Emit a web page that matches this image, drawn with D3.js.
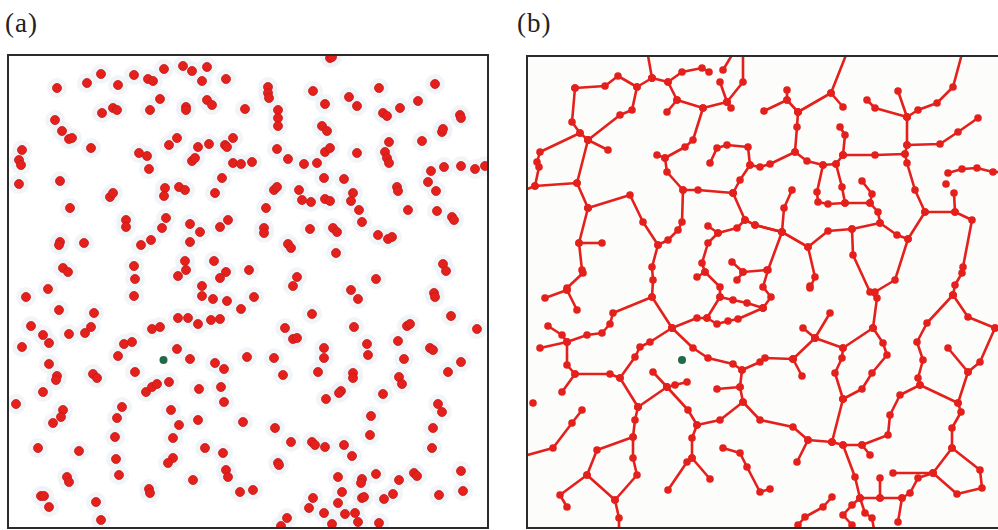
<!DOCTYPE html>
<html>
<head>
<meta charset="utf-8">
<script src="https://cdn.jsdelivr.net/npm/d3@7"></script>
<style>
  body { margin: 0; background: #fff; }
</style>
</head>
<body>
<svg id="chart" width="998" height="530"></svg>
<script>
// panel labels
const panelLabels = ["(a)", "(b)"];

// seed (green) point, one per panel, in figure pixel units
const seedA = [163.5, 360];
const seedB = [682, 360];

// panel (a): scattered particles
const scatterPoints = [
  [57,88],[87,83],[101,74],[118,85],[134,75],[148,79],[153,81],[164,69],[183,66],[192,71],[207,67],[202,81],[226,79],[160,99],
  [102,113],[113,108],[117,110],[150,110],[186,107],[186,110],[207,100],[212,105],[245,109],[55,120],[62,131],[69,139],[72,138],
  [91,148],[22,150],[19,160],[21,165],[19,184],[60,181],[139,153],[147,156],[149,169],[169,145],[177,138],[198,147],[209,144],
  [225,145],[227,147],[233,138],[192,161],[195,158],[233,163],[241,164],[222,178],[215,193],[165,188],[164,196],[179,187],[185,190],
  [110,197],[113,193],[70,208],[126,220],[126,227],[166,218],[162,228],[190,224],[200,232],[220,227],[228,220],[60,242],[59,245],
  [84,243],[141,245],[151,240],[190,242],[63,268],[68,272],[134,266],[135,279],[185,261],[186,270],[178,276],[214,261],[226,272],
  [220,278],[249,270],[202,286],[48,289],
  [330,58],[332,57],[268,87],[268,93],[269,98],[313,91],[379,88],[435,84],[325,104],[349,97],[357,106],[383,113],[387,116],
  [400,108],[418,101],[460,115],[461,118],[278,110],[278,118],[278,126],[322,126],[327,131],[442,132],[443,129],[389,142],[422,141],
  [277,149],[288,159],[252,162],[304,164],[317,163],[325,152],[330,148],[357,153],[385,152],[387,158],[389,163],[431,171],[444,167],
  [461,166],[475,169],[485,166],[324,178],[344,179],[274,190],[277,187],[299,190],[302,200],[311,202],[325,199],[330,201],[353,193],
  [351,201],[397,187],[398,191],[428,182],[436,191],[266,208],[359,210],[408,210],[437,211],[452,217],[454,220],[264,228],[264,233],
  [310,229],[333,228],[337,232],[362,222],[378,235],[388,239],[392,237],[288,244],[291,248],[336,253],[297,277],[293,286],[376,279],
  [443,264],[446,271],
  [26,297],[59,310],[94,313],[134,296],[202,296],[213,299],[227,301],[241,309],[31,326],[43,335],[49,343],[69,334],[85,333],[91,327],
  [152,329],[160,327],[178,318],[188,318],[198,324],[211,320],[220,319],[22,347],[124,344],[132,342],[118,356],[177,349],[190,359],
  [247,357],[49,364],[57,376],[56,380],[93,374],[97,378],[135,372],[215,363],[224,369],[43,392],[146,392],[152,387],[157,384],
  [169,382],[199,389],[221,387],[224,402],[16,404],[122,407],[117,418],[63,410],[61,417],[53,423],[171,410],[179,425],[198,420],
  [243,422],[115,437],[173,438],[38,448],[79,451],[205,448],[223,453],[116,459],[173,458],[168,463],[119,475],[67,477],[69,482],
  [193,480],[226,470],[228,477],[41,496],[44,496],[49,507],[149,489],[150,493],[96,502],[101,520],[240,492],
  [254,297],[351,290],[358,299],[434,293],[435,297],[312,314],[285,328],[293,339],[297,338],[354,327],[407,326],[410,324],[451,316],
  [477,329],[274,358],[324,348],[324,358],[367,344],[368,355],[398,341],[404,359],[430,348],[433,350],[461,362],[448,372],[283,375],
  [318,372],[353,373],[353,378],[399,377],[402,384],[341,391],[339,393],[326,399],[383,394],[438,404],[442,412],[371,416],[275,428],
  [370,435],[433,428],[432,448],[291,442],[312,442],[315,445],[325,447],[344,445],[352,456],[278,463],[279,465],[338,477],[362,479],
  [361,483],[376,474],[399,480],[414,473],[417,476],[461,471],[253,490],[313,498],[342,492],[362,498],[364,497],[384,499],[393,494],
  [439,495],[463,491],[309,508],[324,513],[338,503],[345,514],[355,513],[358,522],[287,518],[281,526],[332,524],[379,523]
];

// panel (b): aggregated network, as chains of connected particles
const networkChains = [
  [[647,50],[652,78]],
  [[652,78],[637,87],[632,110],[620,115],[588,140]],
  [[575,88],[605,86],[618,76],[637,87]],
  [[575,88],[572,122],[580,133],[588,140]],
  [[588,140],[608,150]],
  [[520,192],[535,186],[539,167],[537,162],[540,152],[580,133]],
  [[535,186],[577,183]],
  [[588,140],[577,183],[588,208]],
  [[588,208],[630,195],[643,222],[658,245],[668,240],[678,230],[682,222],[683,190]],
  [[588,208],[579,243],[582,270],[583,273],[567,288],[567,290]],
  [[579,243],[602,243]],
  [[658,245],[652,267],[653,280],[652,297]],
  [[703,108],[693,140],[685,147],[665,158],[657,155]],
  [[665,158],[667,172],[683,190],[698,190],[733,193]],
  [[652,78],[668,82],[677,100],[703,108],[727,102],[731,108]],
  [[668,82],[682,72],[702,68],[709,72]],
  [[727,102],[720,82]],
  [[727,102],[743,82],[743,50]],
  [[735,50],[723,70]],
  [[677,100],[667,112]],
  [[733,193],[740,180],[750,165],[748,147],[727,145],[717,148],[710,163]],
  [[750,165],[760,167],[770,164],[795,152]],
  [[733,193],[745,220],[755,225],[782,232]],
  [[745,220],[737,228],[718,233],[708,226]],
  [[718,233],[708,243],[702,263],[705,272],[697,277]],
  [[705,272],[720,287],[720,297]],
  [[732,262],[743,272],[767,270]],
  [[743,272],[737,280]],
  [[848,50],[831,93],[798,112]],
  [[831,93],[843,107]],
  [[764,111],[787,100],[798,112]],
  [[787,90],[787,100]],
  [[798,112],[797,127],[795,152],[807,161],[823,165],[836,164],[843,155]],
  [[840,127],[845,135],[843,155]],
  [[843,155],[875,155],[905,154],[907,163],[915,190],[925,212],[955,212],[972,220],[963,267],[962,273],[955,285],[953,295]],
  [[905,154],[907,145],[907,117],[898,91]],
  [[907,117],[875,108],[867,100]],
  [[907,117],[918,110],[937,103],[953,87],[963,50]],
  [[907,145],[940,144],[958,132],[978,118]],
  [[948,173],[962,169],[977,168],[993,172],[1005,172]],
  [[955,212],[954,193]],
  [[823,165],[817,192],[818,202],[828,204],[845,203],[870,203],[872,194],[862,181]],
  [[836,164],[842,187],[845,203]],
  [[870,203],[878,212],[880,223],[897,235],[908,239],[925,212]],
  [[880,223],[852,229],[828,231],[808,247],[782,232],[755,225]],
  [[782,232],[784,208],[792,190]],
  [[782,232],[768,270],[763,287],[771,297],[763,308]],
  [[808,247],[815,277],[810,288]],
  [[852,229],[853,255],[870,292],[877,298],[873,328]],
  [[908,239],[895,280],[875,292]],
  [[545,298],[567,290],[577,310]],
  [[548,326],[562,335],[567,342]],
  [[540,348],[567,342],[587,335],[602,333],[610,324],[613,313],[652,297],[672,328]],
  [[567,342],[567,365],[575,374],[562,392]],
  [[575,374],[610,374],[620,378],[638,407]],
  [[620,378],[635,357],[640,347],[650,342],[672,328]],
  [[672,328],[693,348],[708,358],[733,364],[742,370],[760,362],[765,358],[793,359]],
  [[672,328],[697,318],[707,318],[720,297],[733,300],[747,303],[763,308]],
  [[707,318],[717,324],[728,321],[738,319],[763,308]],
  [[742,370],[740,387],[717,389]],
  [[740,387],[743,402],[720,420],[697,425],[692,438],[692,458],[687,462],[668,490]],
  [[692,458],[710,479]],
  [[697,425],[688,410],[667,387],[653,372]],
  [[667,387],[675,385],[687,382]],
  [[667,387],[638,407]],
  [[638,407],[635,420],[633,437],[597,450],[587,475],[560,495],[567,507]],
  [[587,475],[615,500],[619,518],[619,535]],
  [[633,437],[633,458],[637,475],[615,500]],
  [[520,457],[553,448],[572,423],[582,410]],
  [[743,402],[760,420],[793,427],[808,440],[832,442]],
  [[723,448],[740,453],[747,467],[760,492],[770,489]],
  [[873,328],[843,348],[815,338],[803,328]],
  [[815,338],[830,313]],
  [[815,338],[793,359]],
  [[793,359],[802,376]],
  [[873,328],[883,343],[887,355],[872,373],[862,389],[843,399]],
  [[843,348],[842,358],[835,373],[843,399]],
  [[843,399],[832,442]],
  [[808,440],[797,462]],
  [[832,442],[843,445],[862,445],[870,455]],
  [[862,445],[888,435],[890,415],[900,395],[920,385],[918,378],[923,360],[917,342],[927,323],[953,295]],
  [[953,295],[968,317],[995,328]],
  [[995,328],[980,362],[968,372],[958,403],[961,412],[952,428],[952,448],[933,473],[918,478],[910,493],[902,498],[898,522]],
  [[920,385],[958,403]],
  [[968,372],[948,348]],
  [[952,448],[980,470],[982,488],[957,494],[933,473]],
  [[933,473],[893,473]],
  [[843,445],[855,477],[860,498],[880,498],[902,498]],
  [[880,498],[880,478]],
  [[832,497],[823,507],[805,517],[798,525]],
  [[860,498],[852,505],[843,515],[852,525]],
  [[860,498],[865,513],[872,518],[875,535]]
];
const networkLoose = [[533,403],[946,184],[810,286]];

const red = "#e4201c",
  redEdge = "#c41a17",
  green = "#1f6b48";

const svg = d3.select("#chart");

// frames
const panelA = { x0: 8, x1: 488, y0: 55, y1: 528 };
const panelB = { x0: 527, x1: 998, y0: 56, y1: 528 };

const xA = d3.scaleLinear().domain([8, 488]).range([panelA.x0, panelA.x1]);
const xB = d3.scaleLinear().domain([527, 998]).range([panelB.x0, panelB.x1]);
const y = d3.scaleLinear().domain([55, 528]).range([55, 528]);

const defs = svg.append("defs");
defs.append("clipPath").attr("id", "clipA")
  .append("rect")
  .attr("x", panelA.x0).attr("y", panelA.y0)
  .attr("width", panelA.x1 - panelA.x0).attr("height", panelA.y1 - panelA.y0);
defs.append("clipPath").attr("id", "clipB")
  .append("rect")
  .attr("x", panelB.x0).attr("y", panelB.y0)
  .attr("width", panelB.x1 - panelB.x0).attr("height", panelB.y1 - panelB.y0);

// labels
svg.selectAll(".panel-label")
  .data(panelLabels)
  .enter()
  .append("text")
  .attr("class", "panel-label")
  .attr("x", (d, i) => (i === 0 ? 5 : 517))
  .attr("y", 32)
  .style("font-family", "'Liberation Serif', 'DejaVu Serif', serif")
  .style("font-size", "27px")
  .style("letter-spacing", "1px")
  .style("fill", "#222")
  .text((d) => d);

// ---- panel (a)
const gA = svg.append("g").attr("clip-path", "url(#clipA)");
gA.append("rect")
  .attr("x", panelA.x0).attr("y", panelA.y0)
  .attr("width", panelA.x1 - panelA.x0).attr("height", panelA.y1 - panelA.y0)
  .style("fill", "#fff");

// faint halo around particles
gA.selectAll(".halo")
  .data(scatterPoints)
  .enter()
  .append("circle")
  .attr("class", "halo")
  .attr("cx", (d) => xA(d[0]))
  .attr("cy", (d) => y(d[1]))
  .attr("r", 10)
  .style("fill", "#edf1f5")
  .style("opacity", 0.7);

gA.selectAll(".dot")
  .data(scatterPoints)
  .enter()
  .append("circle")
  .attr("class", "dot")
  .attr("cx", (d) => xA(d[0]))
  .attr("cy", (d) => y(d[1]))
  .attr("r", 4.5)
  .style("fill", red)
  .style("stroke", redEdge)
  .style("stroke-width", 0.8);

gA.append("circle")
  .attr("cx", xA(seedA[0]))
  .attr("cy", y(seedA[1]))
  .attr("r", 4)
  .style("fill", green);

svg.append("rect")
  .attr("x", panelA.x0).attr("y", panelA.y0)
  .attr("width", panelA.x1 - panelA.x0).attr("height", panelA.y1 - panelA.y0)
  .style("fill", "none")
  .style("stroke", "#2b2b2b")
  .style("stroke-width", 2);

// ---- panel (b)
const gB = svg.append("g").attr("clip-path", "url(#clipB)");
gB.append("rect")
  .attr("x", panelB.x0).attr("y", panelB.y0)
  .attr("width", panelB.x1 - panelB.x0).attr("height", panelB.y1 - panelB.y0)
  .style("fill", "#fcfcfa");

const link = d3.line().x((d) => xB(d[0])).y((d) => y(d[1]));

gB.selectAll(".chain")
  .data(networkChains)
  .enter()
  .append("path")
  .attr("class", "chain")
  .attr("d", link)
  .style("fill", "none")
  .style("stroke", red)
  .style("stroke-width", 2.6)
  .style("stroke-linejoin", "round");

const nodes = networkChains.flat().concat(networkLoose);
gB.selectAll(".node")
  .data(nodes)
  .enter()
  .append("circle")
  .attr("class", "node")
  .attr("cx", (d) => xB(d[0]))
  .attr("cy", (d) => y(d[1]))
  .attr("r", 3.8)
  .style("fill", red);

gB.append("circle")
  .attr("cx", xB(seedB[0]))
  .attr("cy", y(seedB[1]))
  .attr("r", 4)
  .style("fill", green);

// frame: open on the right where the figure is cut
svg.append("path")
  .attr("d", d3.line()([
    [panelB.x1, panelB.y0],
    [panelB.x0, panelB.y0],
    [panelB.x0, panelB.y1],
    [panelB.x1, panelB.y1]
  ]))
  .style("fill", "none")
  .style("stroke", "#2b2b2b")
  .style("stroke-width", 2);
</script>
</body>
</html>
